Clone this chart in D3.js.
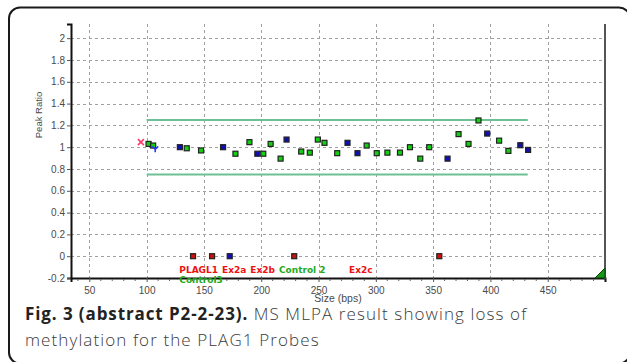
<!DOCTYPE html>
<html>
<head>
<meta charset="utf-8">
<script src="https://cdn.jsdelivr.net/npm/d3@7/dist/d3.min.js"></script>
<style>
  html, body { margin: 0; padding: 0; background: #fff; }
  svg { display: block; }
</style>
</head>
<body>
<svg id="chart" width="627" height="362"></svg>
<script>
// Probe sizes (bps) and peak ratios
const controlSizes  = [101.7, 105.7, 135, 147.5, 177.5, 189.7, 201.8, 208.2, 216.9, 234.9, 242.4, 249.4, 255.2, 266.3, 292, 300.8, 310.1, 321.1, 329.8, 338.8, 346.6, 372.2, 380.9, 389.6, 407.6, 415.7];
const controlRatios = [1.03, 1.015, 0.99, 0.97, 0.94, 1.046, 0.94, 1.03, 0.895, 0.96, 0.95, 1.07, 1.04, 0.945, 1.015, 0.945, 0.95, 0.95, 1.0, 0.895, 1.0, 1.12, 1.03, 1.245, 1.06, 0.966];

const refSizes  = [129, 166.7, 196.6, 222.1, 275.3, 284, 362.6, 397.2, 426.1, 432.9];
const refRatios = [1.0, 1.0, 0.94, 1.07, 1.04, 0.945, 0.895, 1.125, 1.018, 0.975];

// Methylation-specific probes (digested, ratio 0)
const mspSizes   = [140.5, 157.1, 228.8, 355.4];
const mspRatios  = [0, 0, 0, 0];
const mspRefSizes  = [172.5];
const mspRefRatios = [0];

// Special markers
const qFragment = [95, 1.046];
const dFragment = [107.5, 0.98];

// Arbitrary boundaries
const boundLow = 0.75, boundHigh = 1.25;
const boundRange = [100, 432.6];

// Axes
const xTicks = [50, 100, 150, 200, 250, 300, 350, 400, 450];
const yTicks = [-0.2, 0, 0.2, 0.4, 0.6, 0.8, 1, 1.2, 1.4, 1.6, 1.8, 2];

// Probe annotations
const probeLabels = ["PLAGL1", "Ex2a", "Ex2b", "Control 2"];
const probeLabelColors = ["#ee1111", "#ee1111", "#ee1111", "#22aa22"];
const extraLabel = "Control3";
const lastLabel = "Ex2c";

const captionBold = "Fig. 3 (abstract P2-2-23).";
const captionRest = " MS MLPA result showing loss of";
const captionLine2 = "methylation for the PLAG1 Probes";

const svg = d3.select("#chart");

// Outer rounded frame
svg.append("rect")
  .attr("x", 9).attr("y", 7.5)
  .attr("width", 621).attr("height", 356)
  .attr("rx", 11).attr("ry", 11)
  .attr("fill", "none").attr("stroke", "#1a1a1a").attr("stroke-width", 2);

const x = d3.scaleLinear().domain([34, 500]).range([71, 605]);
const y = d3.scaleLinear().domain([-0.2, 2.13]).range([278, 24]);

const tickFont = "'Liberation Sans', Arial, sans-serif";

// Gridlines
const grid = svg.append("g").attr("stroke", "#a0a0a0").attr("stroke-width", 1).attr("stroke-dasharray", "3,3");
grid.selectAll("line.h").data(yTicks.filter(d => d > -0.2)).join("line")
  .attr("x1", x.range()[0]).attr("x2", x.range()[1])
  .attr("y1", d => Math.round(y(d)) + 0.5).attr("y2", d => Math.round(y(d)) + 0.5);
grid.selectAll("line.v").data(xTicks).join("line")
  .attr("y1", y.range()[1]).attr("y2", y.range()[0])
  .attr("x1", d => Math.round(x(d)) + 0.5).attr("x2", d => Math.round(x(d)) + 0.5);

// Boundary lines
svg.selectAll("line.bound").data([boundLow, boundHigh]).join("line")
  .attr("x1", x(boundRange[0])).attr("x2", x(boundRange[1]))
  .attr("y1", d => y(d)).attr("y2", d => y(d))
  .attr("stroke", "#6fbf96").attr("stroke-width", 2);

// Y axis
const yAxis = svg.append("g").attr("transform", `translate(${x.range()[0]},0)`)
  .call(d3.axisLeft(y).tickValues(yTicks).tickSize(4).tickPadding(2)
        .tickFormat(d => String(+d.toFixed(1))));
yAxis.select(".domain").attr("stroke", "#111").attr("stroke-width", 2);
yAxis.selectAll(".tick line").attr("stroke", "#555");
yAxis.selectAll("text").attr("font-family", tickFont).attr("font-size", 10).attr("fill", "#4a4a4a");

// X axis
const xAxis = svg.append("g").attr("transform", `translate(0,${y.range()[0]})`)
  .call(d3.axisBottom(x).tickValues(xTicks).tickSize(4).tickPadding(4.5));
xAxis.select(".domain").attr("stroke", "#111").attr("stroke-width", 2);
xAxis.selectAll(".tick line").attr("stroke", "#555");
xAxis.selectAll("text").attr("font-family", tickFont).attr("font-size", 10).attr("fill", "#4a4a4a");

// Minor ticks on x axis
svg.append("g").selectAll("line").data(d3.range(40, 500, 10).filter(v => v % 50 !== 0)).join("line")
  .attr("x1", d => x(d)).attr("x2", d => x(d))
  .attr("y1", y.range()[0] + 1).attr("y2", y.range()[0] + 3)
  .attr("stroke", "#666").attr("stroke-width", 1);

// Right border
svg.append("line")
  .attr("x1", x.range()[1]).attr("x2", x.range()[1])
  .attr("y1", y.range()[1]).attr("y2", y.range()[0] + 1)
  .attr("stroke", "#555").attr("stroke-width", 2);

// Axis titles
svg.append("text")
  .attr("transform", `translate(42,115) rotate(-90)`)
  .attr("text-anchor", "middle")
  .attr("font-family", tickFont).attr("font-size", 9.5).attr("fill", "#4a4a4a")
  .text("Peak Ratio");
svg.append("text")
  .attr("x", (x.range()[0] + x.range()[1]) / 2).attr("y", 302)
  .attr("text-anchor", "middle")
  .attr("font-family", tickFont).attr("font-size", 10.5).attr("fill", "#4a4a4a")
  .text("Size (bps)");

// Square markers
function squares(sizes, ratios, fill) {
  svg.append("g").selectAll("rect").data(sizes.map((s, i) => [s, ratios[i]])).join("rect")
    .attr("x", d => x(d[0]) - 2.5).attr("y", d => y(d[1]) - 2.5)
    .attr("width", 5).attr("height", 5)
    .attr("fill", fill).attr("stroke", "#222").attr("stroke-width", 1.2);
}
squares(controlSizes, controlRatios, "#10d010");
squares(refSizes, refRatios, "#1010b0");
squares(mspSizes, mspRatios, "#cc1010");
squares(mspRefSizes, mspRefRatios, "#1010b0");

// Q-fragment cross
const qx = x(qFragment[0]), qy = y(qFragment[1]);
svg.append("path")
  .attr("d", `M${qx - 3},${qy - 3}L${qx + 3},${qy + 3}M${qx + 3},${qy - 3}L${qx - 3},${qy + 3}`)
  .attr("stroke", "#ff3a6a").attr("stroke-width", 1.6).attr("fill", "none");

// D-fragment marker
const dx = x(dFragment[0]), dy = y(dFragment[1]);
svg.append("path")
  .attr("d", `M${dx - 3},${dy - 3}L${dx},${dy}L${dx + 3},${dy - 3}M${dx},${dy}L${dx},${dy + 3}`)
  .attr("stroke", "#2a3aff").attr("stroke-width", 1.6).attr("fill", "none");

// Probe annotations
const labelFont = "'DejaVu Sans', Verdana, sans-serif";
let cursor = 179.3;
probeLabels.forEach((t, i) => {
  const el = svg.append("text")
    .attr("x", cursor).attr("y", 273)
    .attr("font-family", labelFont).attr("font-size", 9).attr("font-weight", "bold")
    .attr("fill", probeLabelColors[i]).text(t);
  cursor += el.node().getComputedTextLength() + 4;
});
svg.append("text").attr("x", 179.3).attr("y", 282.5)
  .attr("font-family", labelFont).attr("font-size", 9).attr("font-weight", "bold")
  .attr("fill", "#22aa22").text(extraLabel);
svg.append("text").attr("x", 349).attr("y", 273)
  .attr("font-family", labelFont).attr("font-size", 9).attr("font-weight", "bold")
  .attr("fill", "#ee1111").text(lastLabel);

// Resize grip
const gx = x.range()[1], gy = y.range()[0];
svg.append("path")
  .attr("d", `M${gx - 10},${gy}L${gx},${gy}L${gx},${gy - 10}Z`)
  .attr("fill", "#129a12").attr("stroke", "#0a3a0a").attr("stroke-width", 1);

// Caption
const capFont = "'Open Sans', sans-serif";
const cap = svg.append("text").attr("x", 25).attr("y", 320)
  .attr("font-family", capFont).attr("font-size", 17).attr("fill", "#3a3a3a")
  .attr("letter-spacing", 1.1);
cap.append("tspan").attr("font-weight", "bold").attr("fill", "#222").attr("letter-spacing", 0.9).text(captionBold);
cap.append("tspan").attr("font-weight", 300).attr("letter-spacing", 1.1).text(captionRest);
svg.append("text").attr("x", 25).attr("y", 346)
  .attr("font-family", capFont).attr("font-size", 17).attr("fill", "#3a3a3a")
  .attr("font-weight", 300).attr("letter-spacing", 1.1)
  .text(captionLine2);
</script>
</body>
</html>
